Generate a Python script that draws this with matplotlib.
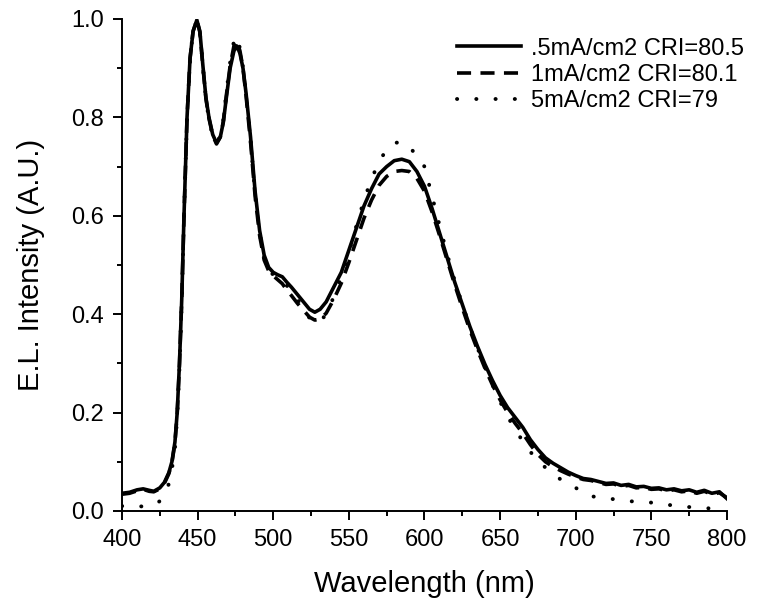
import matplotlib.pyplot as plt

plt.rcParams['font.family'] = ['Liberation Sans', 'DejaVu Sans']

## Данные спектров (длина волны, нм)
wl = [400, 405, 410, 414, 418, 421, 425, 428, 431, 433, 435, 436.5, 438, 439.5, 441, 443, 445, 447,
      449.5, 451.5, 453.5, 455.5, 457.5, 460, 462.5, 465, 467, 469, 471.5, 474, 476, 478, 480, 482,
      485, 488, 491, 494, 497, 500, 503, 506, 509, 512, 516, 520, 524, 527.5, 531, 535, 540, 545,
      550, 555, 560, 565, 570, 575, 580, 585, 590, 595, 600, 605, 610, 615, 620, 625, 630, 635, 640,
      645, 650, 655, 660, 665, 670, 675, 680, 685, 690, 695, 700, 705, 710, 715, 720, 725, 730, 735,
      740, 745, 750, 755, 760, 765, 770, 775, 780, 785, 790, 795, 800]

i_05 = [0.036, 0.038, 0.043, 0.045, 0.042, 0.040, 0.047, 0.058, 0.078, 0.100, 0.140, 0.200, 0.300,
        0.430, 0.600, 0.800, 0.920, 0.975, 0.998, 0.975, 0.905, 0.840, 0.800, 0.765, 0.748, 0.760,
        0.790, 0.840, 0.900, 0.935, 0.945, 0.930, 0.900, 0.850, 0.760, 0.650, 0.570, 0.520, 0.495,
        0.485, 0.480, 0.476, 0.465, 0.455, 0.440, 0.425, 0.410, 0.404, 0.410, 0.425, 0.455, 0.485,
        0.530, 0.575, 0.620, 0.655, 0.685, 0.700, 0.712, 0.715, 0.710, 0.690, 0.660, 0.615, 0.565,
        0.515, 0.465, 0.420, 0.375, 0.335, 0.298, 0.265, 0.235, 0.210, 0.190, 0.170, 0.145, 0.125,
        0.108, 0.097, 0.088, 0.079, 0.072, 0.066, 0.064, 0.060, 0.056, 0.057, 0.052, 0.054, 0.049,
        0.050, 0.046, 0.047, 0.043, 0.045, 0.041, 0.043, 0.038, 0.042, 0.036, 0.039, 0.025]

i_1 = [0.034, 0.036, 0.041, 0.044, 0.040, 0.039, 0.045, 0.056, 0.076, 0.098, 0.138, 0.198, 0.298,
       0.428, 0.600, 0.800, 0.920, 0.975, 0.998, 0.973, 0.903, 0.838, 0.798, 0.763, 0.746, 0.760,
       0.792, 0.845, 0.905, 0.945, 0.955, 0.935, 0.900, 0.845, 0.750, 0.640, 0.560, 0.510, 0.488,
       0.478, 0.470, 0.462, 0.449, 0.438, 0.422, 0.408, 0.394, 0.388, 0.390, 0.402, 0.430, 0.463,
       0.505, 0.550, 0.595, 0.632, 0.662, 0.680, 0.690, 0.692, 0.690, 0.676, 0.650, 0.608, 0.560,
       0.510, 0.460, 0.413, 0.368, 0.328, 0.290, 0.256, 0.226, 0.200, 0.178, 0.158, 0.135, 0.115,
       0.100, 0.090, 0.082, 0.075, 0.069, 0.064, 0.062, 0.058, 0.054, 0.055, 0.050, 0.052, 0.047,
       0.048, 0.044, 0.045, 0.041, 0.043, 0.039, 0.041, 0.036, 0.040, 0.034, 0.037, 0.027]

i_5 = [0.010, 0.011, 0.010, 0.009, 0.009, 0.012, 0.020, 0.035, 0.055, 0.085, 0.125, 0.190, 0.290,
       0.425, 0.600, 0.800, 0.920, 0.975, 0.998, 0.973, 0.903, 0.836, 0.796, 0.762, 0.748, 0.762,
       0.795, 0.850, 0.912, 0.955, 0.965, 0.940, 0.902, 0.848, 0.755, 0.645, 0.565, 0.515, 0.490,
       0.480, 0.474, 0.470, 0.458, 0.446, 0.430, 0.412, 0.392, 0.382, 0.385, 0.400, 0.435, 0.475,
       0.525, 0.580, 0.632, 0.675, 0.710, 0.735, 0.748, 0.750, 0.740, 0.722, 0.700, 0.640, 0.580,
       0.522, 0.468, 0.420, 0.374, 0.332, 0.292, 0.256, 0.222, 0.192, 0.165, 0.142, 0.120, 0.104,
       0.088, 0.077, 0.064, 0.055, 0.047, 0.038, 0.030, 0.028, 0.026, 0.024, 0.021, 0.020, 0.019,
       0.019, 0.017, 0.014, 0.013, 0.011, 0.009, 0.008, 0.007, 0.006, 0.005, 0.006, 0.012]

labels = [".5mA/cm2 CRI=80.5", "1mA/cm2 CRI=80.1", "5mA/cm2 CRI=79"]

## Создание графика
fig = plt.figure(figsize=(7.8, 6.03), dpi=100)
ax = fig.add_axes([0.1564, 0.1526, 0.7756, 0.8159])

ax.plot(wl, i_05, color='black', lw=2.6, label=labels[0])
ax.plot(wl, i_1, color='black', lw=2.6, linestyle=(0, (3.9, 2.6)), label=labels[1])
ax.plot(wl, i_5, color='black', lw=2.8, linestyle=(0, (0.05, 4.9)),
        dash_capstyle='round', label=labels[2])

ax.set_xlim(400, 800)
ax.set_ylim(0, 1.0)
ax.set_xticks(range(400, 801, 50))
ax.set_xticks(range(425, 800, 50), minor=True)
ax.set_yticks([0, 0.2, 0.4, 0.6, 0.8, 1.0])
ax.set_yticks([0.1, 0.3, 0.5, 0.7, 0.9], minor=True)
ax.yaxis.set_major_formatter(plt.FormatStrFormatter('%.1f'))

ax.spines['top'].set_visible(False)
ax.spines['right'].set_visible(False)
ax.spines['left'].set_linewidth(1.4)
ax.spines['bottom'].set_linewidth(1.4)
ax.tick_params(which='major', direction='out', length=6.5, width=1.4, labelsize=17, pad=6.5)
ax.tick_params(which='minor', direction='out', length=3.5, width=1.4)

## Обозначения осей
ax.set_xlabel("Wavelength (nm)", fontsize=21, labelpad=14)
ax.set_ylabel("E.L. Intensity (A.U.)", fontsize=21, labelpad=19)

ax.legend(loc='upper left', bbox_to_anchor=(0.554, 0.962), frameon=False, fontsize=17,
          handlelength=2.7, handletextpad=0.42, labelspacing=0.18, borderpad=0,
          borderaxespad=0)

fig.savefig('out.png', dpi=100)
